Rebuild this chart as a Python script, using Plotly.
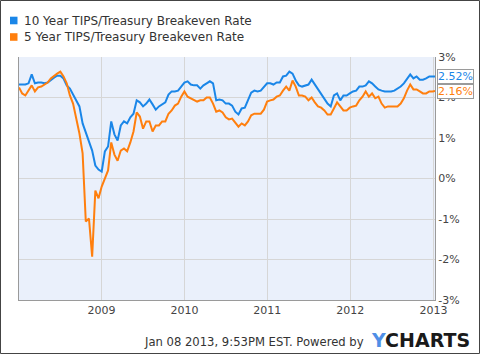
import pandas as pd
import plotly.graph_objects as go

# Sampling dates (every two weeks) plus the final observation
dates = list(pd.date_range("2008-01-04", periods=131, freq="14D").strftime("%Y-%m-%d")) + ["2013-01-08"]

ten_year = [
    2.32, 2.32, 2.32, 2.35, 2.57, 2.35, 2.37, 2.37, 2.35, 2.37,
    2.44, 2.49, 2.54, 2.54, 2.47, 2.30, 2.22, 2.07, 1.90, 1.78,
    1.36, 1.14, 0.96, 0.69, 0.32, 0.22, 0.17, 0.67, 0.79, 1.41,
    1.09, 0.94, 1.31, 1.41, 1.36, 1.51, 1.60, 1.93, 1.88, 1.78,
    1.85, 1.95, 1.83, 1.70, 1.78, 1.83, 1.88, 2.07, 2.15, 2.15,
    2.17, 2.27, 2.37, 2.40, 2.32, 2.30, 2.30, 2.22, 2.30, 2.35,
    2.40, 2.35, 1.93, 1.95, 1.93, 1.85, 1.85, 1.80, 1.65, 1.58,
    1.73, 1.75, 1.93, 2.12, 2.17, 2.15, 2.17, 2.27, 2.35, 2.35,
    2.32, 2.37, 2.37, 2.52, 2.54, 2.64, 2.59, 2.42, 2.30, 2.27,
    2.30, 2.32, 2.44, 2.32, 2.20, 2.10, 1.98, 1.85, 1.78, 2.05,
    2.10, 1.93, 2.05, 2.05, 2.10, 2.15, 2.17, 2.27, 2.27, 2.30,
    2.40, 2.35, 2.27, 2.20, 2.17, 2.15, 2.15, 2.15, 2.17, 2.22,
    2.27, 2.35, 2.47, 2.57, 2.47, 2.52, 2.44, 2.44, 2.47, 2.52,
    2.52, 2.52,
]

five_year = [
    2.25, 2.10, 2.05, 2.17, 2.30, 2.15, 2.25, 2.27, 2.32, 2.37,
    2.47, 2.54, 2.59, 2.64, 2.52, 2.35, 2.05, 1.85, 1.48, 1.11,
    0.62, -1.06, -0.99, -1.93, -0.30, -0.49, -0.20, -0.02, 0.20, 0.89,
    0.59, 0.44, 0.69, 0.74, 0.67, 0.89, 1.16, 1.63, 1.53, 1.23,
    1.41, 1.41, 1.16, 1.31, 1.31, 1.41, 1.41, 1.60, 1.68, 1.80,
    1.85, 2.02, 2.15, 2.02, 1.98, 1.93, 1.90, 1.93, 1.93, 2.00,
    2.00, 1.85, 1.65, 1.68, 1.63, 1.51, 1.46, 1.48, 1.38, 1.28,
    1.36, 1.31, 1.41, 1.56, 1.60, 1.60, 1.60, 1.70, 1.90, 1.93,
    1.95, 2.02, 2.05, 2.17, 2.27, 2.17, 2.42, 2.27, 2.05, 2.05,
    2.02, 1.93, 2.00, 1.88, 1.78, 1.75, 1.68, 1.58, 1.58, 1.73,
    1.88, 1.78, 1.68, 1.68, 1.75, 1.78, 1.80, 1.93, 2.02, 2.15,
    2.02, 2.10, 1.98, 2.02, 1.85, 1.75, 1.78, 1.78, 1.78, 1.78,
    1.85, 1.98, 2.17, 2.32, 2.20, 2.20, 2.15, 2.10, 2.10, 2.15,
    2.15, 2.16,
]

series_names = ["10 Year TIPS/Treasury Breakeven Rate", "5 Year TIPS/Treasury Breakeven Rate"]
series_colors = ["#1a86e8", "#ff7f0e"]
year_ticks = ["2009-01-01", "2010-01-01", "2011-01-01", "2012-01-01", "2013-01-01"]
year_labels = ["2009", "2010", "2011", "2012", "2013"]
pct_ticks = [3, 2, 1, 0, -1, -2, -3]
pct_labels = ["3%", "2%", "1%", "0%", "-1%", "-2%", "-3%"]
footer_text = "Jan 08 2013, 9:53PM EST. Powered by"

W, H = 480, 354
L, R, T, B = 19, 45, 57, 54
PW, PH = W - L - R, H - T - B


def px(x):
    return (x - L) / PW


def py(y):
    return (H - B - y) / PH


FONT = "DejaVu Sans"

fig = go.Figure()
for vals, name, col in zip([ten_year, five_year], series_names, series_colors):
    fig.add_trace(go.Scatter(x=dates, y=vals, mode="lines", name=name,
                             line=dict(color=col, width=2), showlegend=False))

annotations = []
shapes = []
# legend
for i, (name, col) in enumerate(zip(series_names, series_colors)):
    cy = 20.5 + i * 16.5
    shapes.append(dict(type="rect", xref="paper", yref="paper",
                       x0=px(10), x1=px(17.5), y0=py(cy - 3.8), y1=py(cy + 3.8),
                       fillcolor=col, line=dict(width=0)))
    annotations.append(dict(xref="paper", yref="paper", x=px(21.5), y=py(cy),
                            xanchor="left", yanchor="middle", showarrow=False,
                            text=name, font=dict(family=FONT, size=12, color="#333333")))

# last value labels
for vals, col in zip([ten_year, five_year], series_colors):
    annotations.append(dict(xref="paper", yref="y", x=1, y=vals[-1], xanchor="left",
                            yanchor="middle", xshift=2, showarrow=False,
                            text=f"{vals[-1]:.2f}%", font=dict(family=FONT, size=11, color=col),
                            bgcolor="white", bordercolor="#9a9a9a", borderwidth=1, borderpad=0))

# footer
annotations.append(dict(xref="paper", yref="paper", x=px(366), y=py(341.5), xanchor="right",
                        yanchor="middle", showarrow=False, text=footer_text,
                        font=dict(family=FONT, size=11.6, color="#333333")))
annotations.append(dict(xref="paper", yref="paper", x=px(369), y=py(340), xanchor="left",
                        yanchor="middle", showarrow=False,
                        text="<b><span style='color:#4f8fe6'>Y</span>CHARTS</b>",
                        font=dict(family=FONT, size=19, color="#1a1a1a")))

# outer frame
shapes.append(dict(type="rect", xref="paper", yref="paper",
                   x0=px(0.5), x1=px(479.5), y0=py(353.5), y1=py(0.5),
                   line=dict(color="#444444", width=1), fillcolor="rgba(0,0,0,0)", layer="above"))

fig.update_layout(
    width=W, height=H,
    margin=dict(l=L, r=R, t=T, b=B, pad=0),
    paper_bgcolor="white",
    plot_bgcolor="#eaf0fb",
    showlegend=False,
    font=dict(family=FONT, size=11, color="#444444"),
    annotations=annotations,
    shapes=shapes,
    xaxis=dict(range=["2008-01-04", "2013-01-08"], tickvals=year_ticks, ticktext=year_labels,
               showgrid=True, gridcolor="#d6d6d6", gridwidth=1, showline=True,
               linecolor="#9a9a9a", linewidth=1, mirror=False, ticks="", zeroline=False,
               tickfont=dict(family=FONT, size=11, color="#444444")),
    yaxis=dict(range=[-3, 3], side="right", tickvals=pct_ticks, ticktext=pct_labels,
               showgrid=True, gridcolor="#d6d6d6", gridwidth=1, showline=True,
               linecolor="#9a9a9a", linewidth=1, mirror=True, ticks="", zeroline=False,
               tickfont=dict(family=FONT, size=11, color="#444444")),
)

fig.write_html("out.html")
